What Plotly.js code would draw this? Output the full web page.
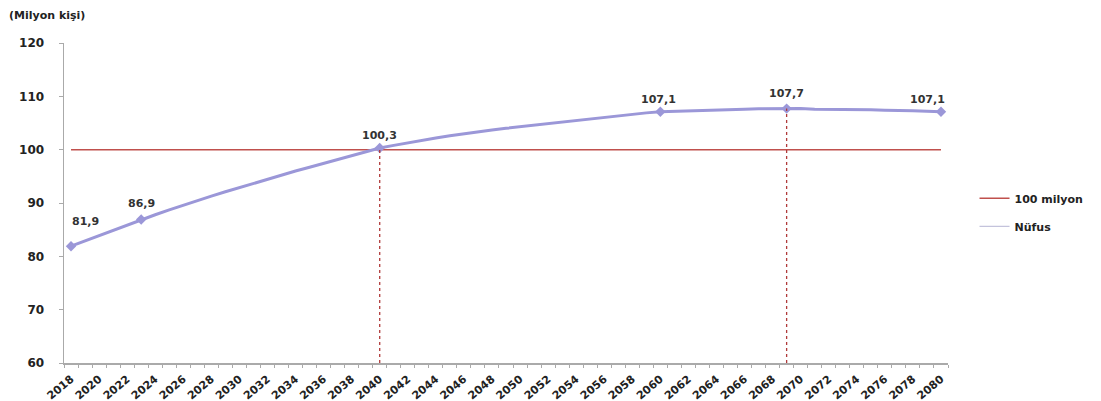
<!DOCTYPE html>
<html>
<head>
<meta charset="utf-8">
<script src="https://cdn.plot.ly/plotly-3.0.1.min.js"></script>
<style>html,body{margin:0;padding:0;background:#fff;}#chart{width:1101px;height:401px;}</style>
</head>
<body>
<div id="chart"></div>
<script>
// Years 2018..2080
const years = [2018,2019,2020,2021,2022,2023,2024,2025,2026,2027,2028,2029,2030,2031,2032,2033,2034,2035,2036,2037,2038,2039,2040,2041,2042,2043,2044,2045,2046,2047,2048,2049,2050,2051,2052,2053,2054,2055,2056,2057,2058,2059,2060,2061,2062,2063,2064,2065,2066,2067,2068,2069,2070,2071,2072,2073,2074,2075,2076,2077,2078,2079,2080];
// Population (million)
const population = [81.9,82.9,83.9,84.9,85.9,86.9,87.8,88.7,89.6,90.4,91.3,92.1,92.9,93.7,94.5,95.3,96.0,96.7,97.4,98.1,98.8,99.6,100.3,100.8,101.3,101.8,102.2,102.6,103.0,103.4,103.7,104.0,104.3,104.6,104.9,105.2,105.5,105.8,106.1,106.4,106.7,106.9,107.1,107.2,107.3,107.4,107.5,107.55,107.6,107.65,107.7,107.7,107.7,107.6,107.6,107.6,107.5,107.5,107.4,107.4,107.3,107.2,107.1];
const threshold = 100;
// Labelled years
const labelYears = [2018,2023,2040,2060,2069,2080];
const labelValues = [81.9,86.9,100.3,107.1,107.7,107.1];
// Years with vertical dotted lines
const markYears = [2040,2069];
const markValues = [100.3,107.7];
const yMin = 60, yMax = 120;

// label offsets (style only)
const labelXShift = [14, 0, 0, -2, 0, -13];
const labelYShift = [16, 8, 4, 4, 7, 4];

const fmt = v => v.toFixed(1).replace('.', ',');
const FAM = 'DejaVu Sans, Verdana, sans-serif';

const traces = [
  {
    x: years, y: years.map(() => threshold), type: 'scatter', mode: 'lines',
    name: '100 milyon', line: {color: '#c0504d', width: 1.5},
    legendgroup: 'a', hoverinfo: 'skip'
  },
  {
    x: years, y: population, type: 'scatter', mode: 'lines',
    name: 'Nüfus', line: {color: '#9b97d8', width: 3},
    showlegend: false
  },
  {
    x: [null], y: [null], type: 'scatter', mode: 'lines',
    name: 'Nüfus', line: {color: '#c4c3dc', width: 1.2},
    legendgroup: 'b'
  },
  {
    x: labelYears, y: labelValues, type: 'scatter', mode: 'markers',
    marker: {symbol: 'diamond', size: 8, color: '#9b97d8'},
    showlegend: false, cliponaxis: false
  }
];
markYears.forEach((yr, i) => {
  traces.push({
    x: [yr, yr], y: [yMin, markValues[i]], type: 'scatter', mode: 'lines',
    line: {color: '#b03a3a', width: 1.3, dash: 'dot'}, showlegend: false, hoverinfo: 'skip'
  });
});

const font = {family: FAM, size: 11, color: '#222', weight: 'bold'};

const annotations = labelYears.map((yr, i) => ({
  x: yr, y: labelValues[i], xref: 'x', yref: 'y', text: fmt(labelValues[i]),
  showarrow: false, xanchor: 'center', yanchor: 'bottom',
  xshift: labelXShift[i], yshift: labelYShift[i],
  font: {family: FAM, size: 11, color: '#333', weight: 'bold'}
}));
annotations.push({
  text: '(Milyon kişi)', xref: 'paper', yref: 'paper', x: -0.064, y: 1.085,
  xanchor: 'left', yanchor: 'middle', showarrow: false,
  font: {family: FAM, size: 11, color: '#222', weight: 'bold'}
});

const layout = {
  width: 1101, height: 401,
  margin: {l: 64, r: 151, t: 43, b: 38},
  paper_bgcolor: '#fff', plot_bgcolor: '#fff',
  separators: ',.',
  font: font,
  showlegend: true,
  legend: {x: 1.03, xanchor: 'left', y: 0.56, yanchor: 'top', traceorder: 'grouped', tracegroupgap: 9,
           font: {family: FAM, size: 11, color: '#222', weight: 'bold'}},
  xaxis: {
    type: 'linear', range: [2017.5, 2080.5], tickmode: 'linear', tick0: 2018, dtick: 2,
    tickangle: -40, ticks: '', showgrid: false, zeroline: false,
    showline: true, linecolor: '#aaa', linewidth: 1.5,
    tickfont: font, ticklabelstandoff: 4,
    minor: {ticks: 'outside', tick0: 2017.5, dtick: 1, ticklen: 3, tickcolor: '#aaa', showgrid: false}
  },
  yaxis: {
    range: [yMin, yMax], tickmode: 'linear', tick0: 60, dtick: 10,
    ticks: 'outside', ticklen: 4, tickcolor: '#aaa', showgrid: false, zeroline: false,
    showline: true, linecolor: '#aaa', linewidth: 1.5, tickfont: {family: FAM, size: 12, color: '#222', weight: 'bold'},
    ticklabelstandoff: 12
  },
  annotations: annotations
};

Plotly.newPlot('chart', traces, layout, {displayModeBar: false, staticPlot: true});
</script>
</body>
</html>
